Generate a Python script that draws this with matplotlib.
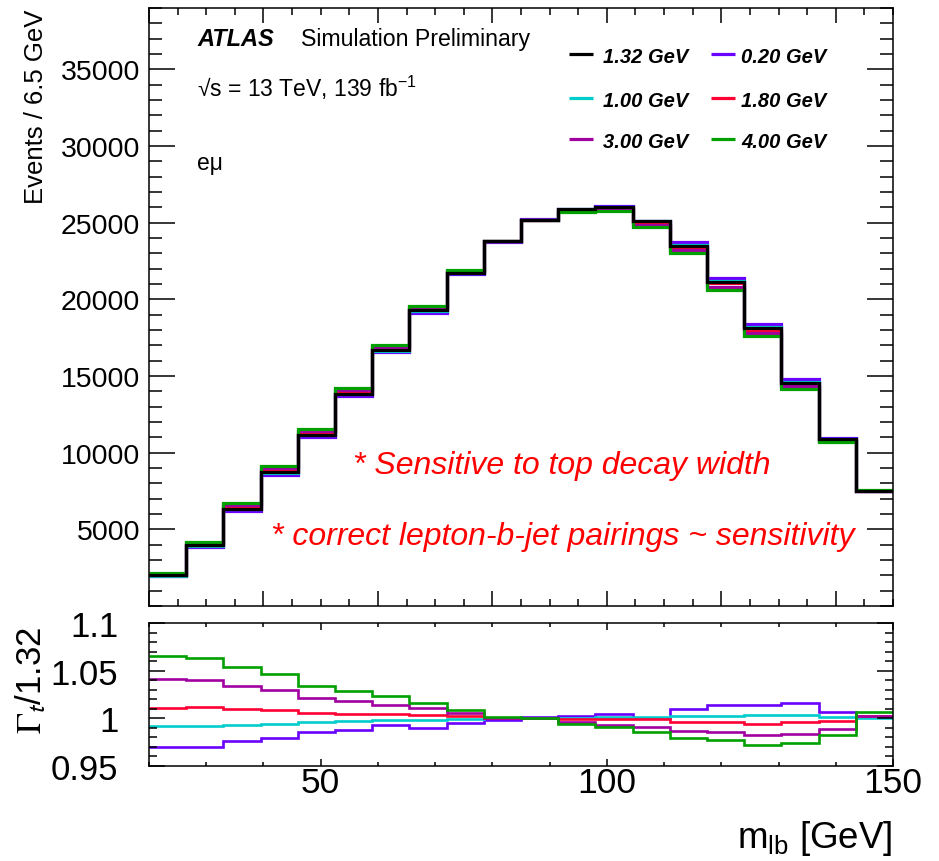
import numpy as np
import matplotlib
matplotlib.use("Agg")
import matplotlib.pyplot as plt
from matplotlib.ticker import MultipleLocator, FixedLocator, FuncFormatter

plt.rcParams['font.family'] = ['Liberation Sans', 'DejaVu Sans']
plt.rcParams['mathtext.fontset'] = 'custom'
plt.rcParams['mathtext.rm'] = 'Liberation Sans'
plt.rcParams['mathtext.it'] = 'Liberation Sans:italic'
plt.rcParams['mathtext.bf'] = 'Liberation Sans:bold'

# m_lb binning (6.5 GeV bins)
edges = [20.0, 26.5, 33.0, 39.5, 46.0, 52.5, 59.0, 65.5, 72.0, 78.5, 85.0,
         91.5, 98.0, 104.5, 111.0, 117.5, 124.0, 130.5, 137.0, 143.5, 150.0]

# nominal prediction, Gamma_t = 1.32 GeV
nominal = [2000, 3950, 6350, 8740, 11170, 13850, 16670, 19280, 21730, 23780,
           25190, 25860, 26010, 25080, 23510, 21120, 18130, 14560, 10870, 7500]

# ratios to the nominal for the alternative widths
ratio_020 = [0.970, 0.9695, 0.976, 0.979, 0.9853, 0.9878, 0.9924, 0.990, 0.995, 0.998,
             1.0016, 1.0023, 1.004, 1.0002, 1.010, 1.0143, 1.014, 1.0157, 1.0066, 1.001]
ratio_100 = [0.992, 0.9913, 0.993, 0.994, 0.996, 0.997, 0.9977, 0.9984, 0.9995, 1.000,
             1.0005, 1.000, 1.0008, 1.0016, 1.0026, 1.0026, 1.0034, 1.003, 1.0016, 1.000]
ratio_180 = [1.011, 1.012, 1.010, 1.0087, 1.0058, 1.0048, 1.004, 1.003, 1.002, 1.0005,
             1.000, 0.9987, 0.9987, 0.9987, 0.996, 0.996, 0.994, 0.9956, 0.9966, 1.002]
ratio_300 = [1.041, 1.040, 1.034, 1.030, 1.021, 1.018, 1.014, 1.011, 1.0055, 1.000,
             1.000, 0.996, 0.993, 0.991, 0.9868, 0.985, 0.9818, 0.9836, 0.989, 1.0023]
ratio_400 = [1.065, 1.063, 1.054, 1.046, 1.034, 1.028, 1.023, 1.016, 1.009, 1.001,
             1.000, 0.994, 0.9907, 0.9853, 0.979, 0.977, 0.972, 0.974, 0.9825, 1.006]

widths = ["0.20 GeV", "1.00 GeV", "1.80 GeV", "3.00 GeV", "4.00 GeV"]
ratios = [ratio_020, ratio_100, ratio_180, ratio_300, ratio_400]
colors = ["#6a00ff", "#00cccc", "#ff0033", "#a000a0", "#00a000"]
nominal_label = "1.32 GeV"

W, H = 939, 862
fig = plt.figure(figsize=(W / 100, H / 100), dpi=100)

def frac_box(x0, y0, x1, y1):
    return [x0 / W, 1 - y1 / H, (x1 - x0) / W, (y1 - y0) / H]

ax = fig.add_axes(frac_box(149, 9, 893, 607))
rax = fig.add_axes(frac_box(149, 624, 893, 766.7))

nom = np.array(nominal, dtype=float)

# main panel: alternative widths first, nominal on top
for r, c in zip(ratios, colors):
    ax.stairs(nom * np.array(r), edges, baseline=None, color=c, lw=2.3)
ax.stairs(nom, edges, baseline=None, color="black", lw=2.3)

# ratio panel
for r, c in zip(ratios, colors):
    rax.stairs(r, edges, baseline=None, color=c, lw=1.9)

for a in (ax, rax):
    a.set_xlim(20, 150)
    for s in a.spines.values():
        s.set_linewidth(1.1)

ax.set_ylim(0, 39000)
rax.set_ylim(0.95, 1.1)

# main axes ticks
ax.xaxis.set_major_locator(MultipleLocator(20))
ax.xaxis.set_minor_locator(MultipleLocator(5))
ax.yaxis.set_major_locator(FixedLocator([5000, 10000, 15000, 20000, 25000, 30000, 35000]))
ax.yaxis.set_minor_locator(MultipleLocator(1000))
ax.tick_params(axis='both', which='both', direction='in', top=True, right=True, width=1.1)
ax.tick_params(axis='x', which='major', length=10.8, labelbottom=False)
ax.tick_params(axis='x', which='minor', length=5.3)
ax.tick_params(axis='y', which='major', length=18.5, labelsize=20.5, pad=6.5)
ax.tick_params(axis='y', which='minor', length=9.2)

# ratio axes ticks
rax.xaxis.set_major_locator(FixedLocator([50, 100, 150]))
rax.xaxis.set_minor_locator(MultipleLocator(10))
rax.yaxis.set_major_locator(FixedLocator([0.95, 1.0, 1.05, 1.1]))
rax.yaxis.set_minor_locator(MultipleLocator(0.01))
rax.yaxis.set_major_formatter(FuncFormatter(lambda v, p: f"{v:g}"))
rax.tick_params(axis='both', which='both', direction='in', top=True, right=True, width=1.1)
rax.tick_params(axis='x', which='major', length=5, labelsize=25.5, pad=0.5)
rax.tick_params(axis='x', which='minor', length=3)
rax.tick_params(axis='y', which='major', length=11.5, labelsize=25, pad=22)
rax.tick_params(axis='y', which='minor', length=5.8)

# axis titles
fig.text(36 / W, 1 - 107 / H, "Events / 6.5 GeV", rotation=90, ha='center', va='center',
         fontsize=18.5)
fig.text(31 / W, 1 - 680 / H, r"$\Gamma_{\mathsf{t}}$/1.32", rotation=90, ha='center',
         va='center', fontsize=25, math_fontfamily='stix')
fig.text(893 / W, 1 - 848 / H, r"m$_{\mathrm{lb}}$ [GeV]", ha='right', va='baseline',
         fontsize=26.5)

# labels inside the main panel
ax.text(0.0645, 0.938, "ATLAS", transform=ax.transAxes, fontsize=17,
        fontweight='bold', fontstyle='italic', va='baseline')
ax.text(0.204, 0.938, "Simulation Preliminary", transform=ax.transAxes, fontsize=16.7,
        va='baseline')
ax.text(0.0645, 0.8534, "\u221As = 13 TeV, 139 fb$^{-1}$", transform=ax.transAxes,
        fontsize=16.5, va='baseline')
ax.text(0.0645, 0.7308, "e\u03bc", transform=ax.transAxes, fontsize=16.5, va='baseline')

ax.text(0.274, 0.2224, "* Sensitive to top decay width", transform=ax.transAxes,
        fontsize=23, color="red", fontstyle='italic', va='baseline')
ax.text(0.164, 0.1037, "* correct lepton-b-jet pairings ~ sensitivity",
        transform=ax.transAxes, fontsize=23, color="red", fontstyle='italic',
        va='baseline')

# legend, two columns filled row by row
leg_entries = [(nominal_label, "black"), (widths[0], colors[0]),
               (widths[1], colors[1]), (widths[2], colors[2]),
               (widths[3], colors[3]), (widths[4], colors[4])]
col_line = [(0.5645, 0.5968, 0.6102), (0.755, 0.7876, 0.7957)]
row_y = [0.9231, 0.849, 0.781]
for i, (lab, c) in enumerate(leg_entries):
    x0, x1, xt = col_line[i % 2]
    y = row_y[i // 2]
    ax.plot([x0, x1], [y, y], transform=ax.transAxes, color=c, lw=2.3,
            solid_capstyle='butt')
    ax.text(xt, y - 0.004, lab, transform=ax.transAxes, fontsize=14.5, fontweight='bold',
            fontstyle='italic', va='center')

fig.savefig("out.png", dpi=100)
